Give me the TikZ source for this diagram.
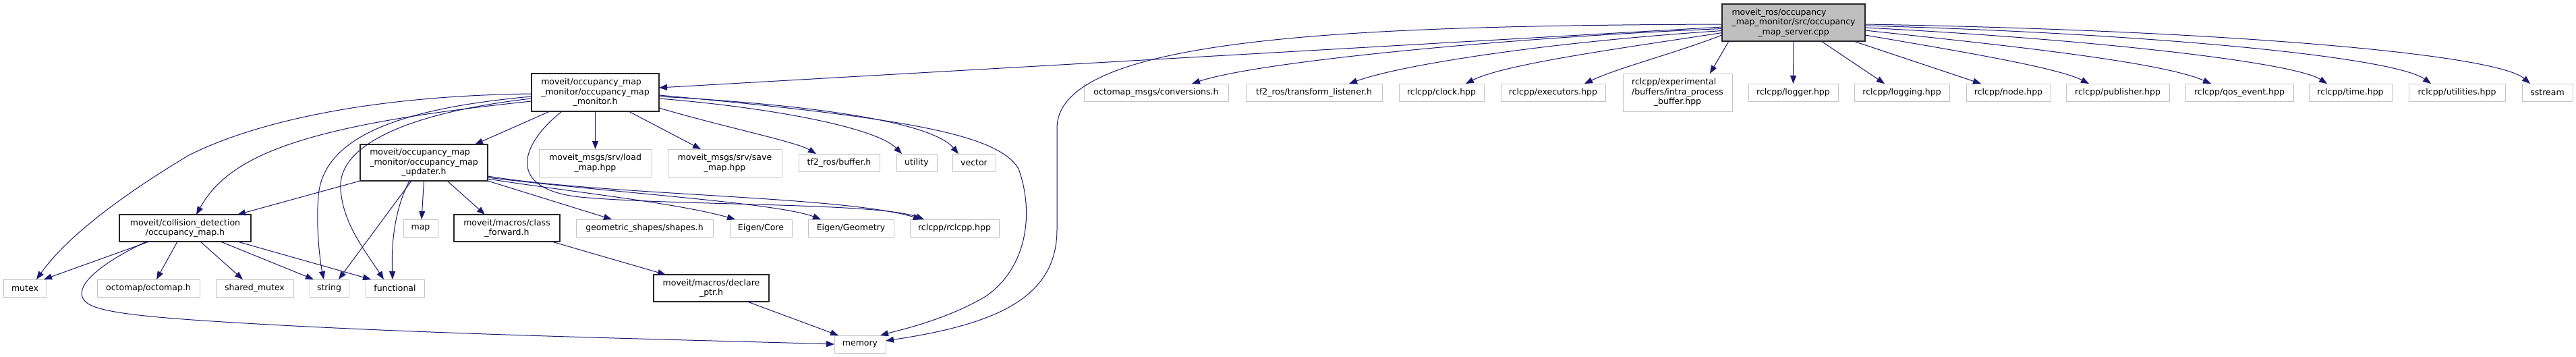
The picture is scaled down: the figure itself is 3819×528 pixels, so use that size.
\documentclass[tikz,border=0pt]{standalone}
\usepackage{fontspec}
\setmainfont{DejaVu Sans}
\usetikzlibrary{arrows.meta,calc}
\definecolor{mblue}{HTML}{191970}
\definecolor{lgray}{HTML}{C4C4C4}
\definecolor{rootfill}{HTML}{BFBFBF}
\newcommand\nfnt{\fontsize{12.5}{14.5}\selectfont}
\newcommand\lf[2]{\rlap{#1}\phantom{#2}}
\tikzset{
  ext/.style={draw=lgray, line width=1pt, fill=white, minimum height=26pt, inner sep=0pt, align=center, font=\nfnt},
  doc/.style={ext, draw=black!85, line width=1.3pt},
  rootbox/.style={doc, fill=rootfill},
  edge/.style={draw=mblue, line width=1pt, -{Triangle[length=12pt,width=9pt]}},
}
\begin{document}
\begin{tikzpicture}[x=1pt,y=-1pt]
\useasboundingbox (0,0) rectangle (3819,528);
% row 0
\node[rootbox, minimum width=212pt, minimum height=55pt] (root) at (2659,33.5) {\lf{moveit\_ros/occupancy}{\_map\_monitor/src/occupancy}\\\_map\_monitor/src/occupancy\\\_map\_server.cpp};
% row 1
\node[doc, minimum width=189pt, minimum height=56pt] (monitor) at (882.5,137) {\lf{moveit/occupancy\_map}{\_monitor/occupancy\_map}\\\_monitor/occupancy\_map\\\_monitor.h};
\node[ext, minimum width=214pt] (conv) at (1714,137) {octomap\_msgs/conversions.h};
\node[ext, minimum width=202pt] (tfl) at (1948,137) {tf2\_ros/transform\_listener.h};
\node[ext, minimum width=126pt] (clock) at (2137,137) {rclcpp/clock.hpp};
\node[ext, minimum width=155pt] (exec) at (2302.5,137) {rclcpp/executors.hpp};
\node[ext, minimum width=162pt, minimum height=56pt] (exper) at (2487,137) {\lf{rclcpp/experimental}{/buffers/intra\_process}\\/buffers/intra\_process\\\_buffer.hpp};
\node[ext, minimum width=133pt] (logger) at (2658.5,137) {rclcpp/logger.hpp};
\node[ext, minimum width=141pt] (logging) at (2819.5,137) {rclcpp/logging.hpp};
\node[ext, minimum width=125pt] (nodeh) at (2977.5,137) {rclcpp/node.hpp};
\node[ext, minimum width=153pt] (pub) at (3139.5,137) {rclcpp/publisher.hpp};
\node[ext, minimum width=160pt] (qos) at (3320,137) {rclcpp/qos\_event.hpp};
\node[ext, minimum width=123pt] (timeh) at (3484.5,137) {rclcpp/time.hpp};
\node[ext, minimum width=143pt] (util) at (3642.5,137) {rclcpp/utilities.hpp};
\node[ext, minimum width=75pt] (sstream) at (3776.5,137) {sstream};
% row 2
\node[doc, minimum width=189pt, minimum height=54pt] (updater) at (628.5,241) {\lf{moveit/occupancy\_map}{\_monitor/occupancy\_map}\\\_monitor/occupancy\_map\\\_updater.h};
\node[ext, minimum width=167pt, minimum height=41pt] (load) at (882.5,241.5) {moveit\_msgs/srv/load\\\_map.hpp};
\node[ext, minimum width=169pt, minimum height=41pt] (save) at (1074.5,241.5) {moveit\_msgs/srv/save\\\_map.hpp};
\node[ext, minimum width=120pt] (buffer) at (1244,241) {tf2\_ros/buffer.h};
\node[ext, minimum width=60pt] (utility) at (1359,241) {utility};
\node[ext, minimum width=64pt] (vector) at (1444,241) {vector};
% row 3
\node[doc, minimum width=195pt, minimum height=40pt] (coll) at (274.5,338) {moveit/collision\_detection\\/occupancy\_map.h};
\node[ext, minimum width=51pt] (map) at (623.5,338) {map};
\node[doc, minimum width=157pt, minimum height=40pt] (classf) at (751.5,338) {moveit/macros/class\\\_forward.h};
\node[ext, minimum width=203pt] (shapes) at (955.5,338) {geometric\_shapes/shapes.h};
\node[ext, minimum width=92pt] (ecore) at (1128,338) {Eigen/Core};
\node[ext, minimum width=127pt] (egeo) at (1261.5,338) {Eigen/Geometry};
\node[ext, minimum width=132pt] (rclcpp) at (1415,338) {rclcpp/rclcpp.hpp};
% row 4
\node[ext, minimum width=64pt] (mutex) at (37,427) {mutex};
\node[ext, minimum width=152pt] (octo) at (220,427) {octomap/octomap.h};
\node[ext, minimum width=115pt] (shm) at (377.5,427) {shared\_mutex};
\node[ext, minimum width=58pt] (string) at (488,427) {string};
\node[ext, minimum width=87pt] (func) at (585.5,427) {functional};
\node[doc, minimum width=171pt, minimum height=40pt] (declare) at (1054.5,427) {moveit/macros/declare\\\_ptr.h};
% row 5
\node[ext, minimum width=76pt] (memory) at (1275,510) {memory};

% root edges
\draw[edge] ($(root)+(-106,6.5)$) -- ($(monitor)+(94.5,-7)$);
\draw[edge] ($(root)+(-106,2.5)$) .. controls (2000,38) and (1567,55) .. (1567,190) -- (1567,340) .. controls (1567,440) and (1480,480) .. ($(memory)+(38,-5)$);
\draw[edge] ($(root)+(-106,9)$) .. controls (2250,55) and (1870,90) .. ($(conv)+(53,-13)$);
\draw[edge] ($(root)+(-106,12)$) .. controls (2300,62) and (2080,95) .. ($(tfl)+(52,-13)$);
\draw[edge] ($(root)+(-106,15)$) .. controls (2400,72) and (2230,95) .. ($(clock)+(36,-13)$);
\draw[edge] ($(root)+(-106,18.5)$) .. controls (2480,80) and (2400,100) .. ($(exec)+(46.5,-13)$);
\draw[edge] ($(root)+(-96,27.5)$) -- ($(exper)+(48,-28)$);
\draw[edge] ($(root)+(0,27.5)$) -- ($(logger)+(0,-13)$);
\draw[edge] ($(root)+(41,27.5)$) -- ($(logging)+(-25.5,-13)$);
\draw[edge] ($(root)+(89,27.5)$) -- ($(nodeh)+(-40.5,-13)$);
\draw[edge] ($(root)+(106,18.5)$) .. controls (2900,75) and (3050,100) .. ($(pub)+(-42.5,-13)$);
\draw[edge] ($(root)+(106,11.5)$) .. controls (2950,65) and (3200,90) .. ($(qos)+(-42,-13)$);
\draw[edge] ($(root)+(106,7.5)$) .. controls (3100,58) and (3400,92) .. ($(timeh)+(-34.5,-13)$);
\draw[edge] ($(root)+(106,4.5)$) .. controls (3200,50) and (3550,85) .. ($(util)+(-38.5,-13)$);
\draw[edge] ($(root)+(106,2.5)$) .. controls (3300,45) and (3700,80) .. ($(sstream)+(-25.5,-13)$);

% monitor edges
\draw[edge] ($(monitor)+(-67.5,28)$) -- ($(updater)+(75.5,-27)$);
\draw[edge] ($(monitor)+(0,28)$) -- ($(load)+(0,-20.5)$);
\draw[edge] ($(monitor)+(49.5,28)$) -- ($(save)+(-35.5,-20.5)$);
\draw[edge] ($(monitor)+(94.5,23)$) .. controls (1080,190) and (1180,210) .. ($(buffer)+(-34,-13)$);
\draw[edge] ($(monitor)+(94.5,9)$) .. controls (1150,160) and (1300,190) .. ($(utility)+(-22,-13)$);
\draw[edge] ($(monitor)+(94.5,6)$) .. controls (1200,155) and (1380,180) .. ($(vector)+(-23,-13)$);
\draw[edge] ($(monitor)+(94.5,4)$) .. controls (1350,175) and (1480,200) .. (1510,250) .. controls (1535,320) and (1520,400) .. (1460,440) .. controls (1400,475) and (1330,490) .. ($(memory)+(30,-13)$);
\draw[edge] ($(monitor)+(-49.5,28)$) .. controls (770,215) and (750,280) .. (860,292) .. controls (1000,305) and (1300,300) .. ($(rclcpp)+(-45,-13)$);
\draw[edge] ($(monitor)+(-94.5,13)$) .. controls (450,185) and (340,230) .. ($(coll)+(16.5,-20)$);
\draw[edge] ($(monitor)+(-94.5,2)$) .. controls (550,142) and (380,180) .. (280,230) .. controls (180,290) and (100,350) .. ($(mutex)+(17,-13)$);
\draw[edge] ($(monitor)+(-94.5,6)$) .. controls (600,160) and (480,200) .. (472,290) .. controls (468,340) and (475,390) .. ($(string)+(-8,-13)$);
\draw[edge] ($(monitor)+(-94.5,9)$) .. controls (620,165) and (500,210) .. (505,280) .. controls (508,330) and (540,370) .. ($(func)+(-16.5,-13)$);

% updater edges
\draw[edge] ($(updater)+(-94.5,27)$) -- ($(coll)+(77.5,-20)$);
\draw[edge] ($(updater)+(-18.5,27)$) -- ($(string)+(14,-13)$);
\draw[edge] ($(updater)+(-21.5,27)$) .. controls (585,310) and (580,360) .. ($(func)+(-3.5,-13)$);
\draw[edge] ($(updater)+(0,27)$) -- ($(map)+(1.5,-13)$);
\draw[edge] ($(updater)+(34.5,27)$) -- ($(classf)+(-32.5,-20)$);
\draw[edge] ($(updater)+(94.5,27)$) -- ($(shapes)+(-48.5,-13)$);
\draw[edge] ($(updater)+(94.5,24)$) .. controls (850,285) and (1000,300) .. ($(ecore)+(-38,-13)$);
\draw[edge] ($(updater)+(94.5,22)$) .. controls (900,285) and (1150,300) .. ($(egeo)+(-44.5,-13)$);
\draw[edge] ($(updater)+(94.5,20)$) .. controls (900,290) and (1250,290) .. ($(rclcpp)+(-49,-13)$);

% collision edges
\draw[edge] ($(coll)+(-53.5,20)$) -- ($(mutex)+(28,-13)$);
\draw[edge] ($(coll)+(-11.5,20)$) -- ($(octo)+(12,-13)$);
\draw[edge] ($(coll)+(22.5,20)$) -- ($(shm)+(-17.5,-13)$);
\draw[edge] ($(coll)+(52.5,20)$) -- ($(string)+(-23,-13)$);
\draw[edge] ($(coll)+(77.5,20)$) -- ($(func)+(-35.5,-13)$);
\draw[edge] ($(coll)+(-57.5,20)$) .. controls (150,390) and (115,420) .. (122,440) .. controls (128,455) and (150,465) .. (300,475) .. controls (600,495) and (1000,503) .. ($(memory)+(-38,0)$);

% macros
\draw[edge] ($(classf)+(66.5,20)$) -- ($(declare)+(-67.5,-20)$);
\draw[edge] ($(declare)+(53.5,20)$) -- ($(memory)+(-32,-13)$);
\end{tikzpicture}
\end{document}
